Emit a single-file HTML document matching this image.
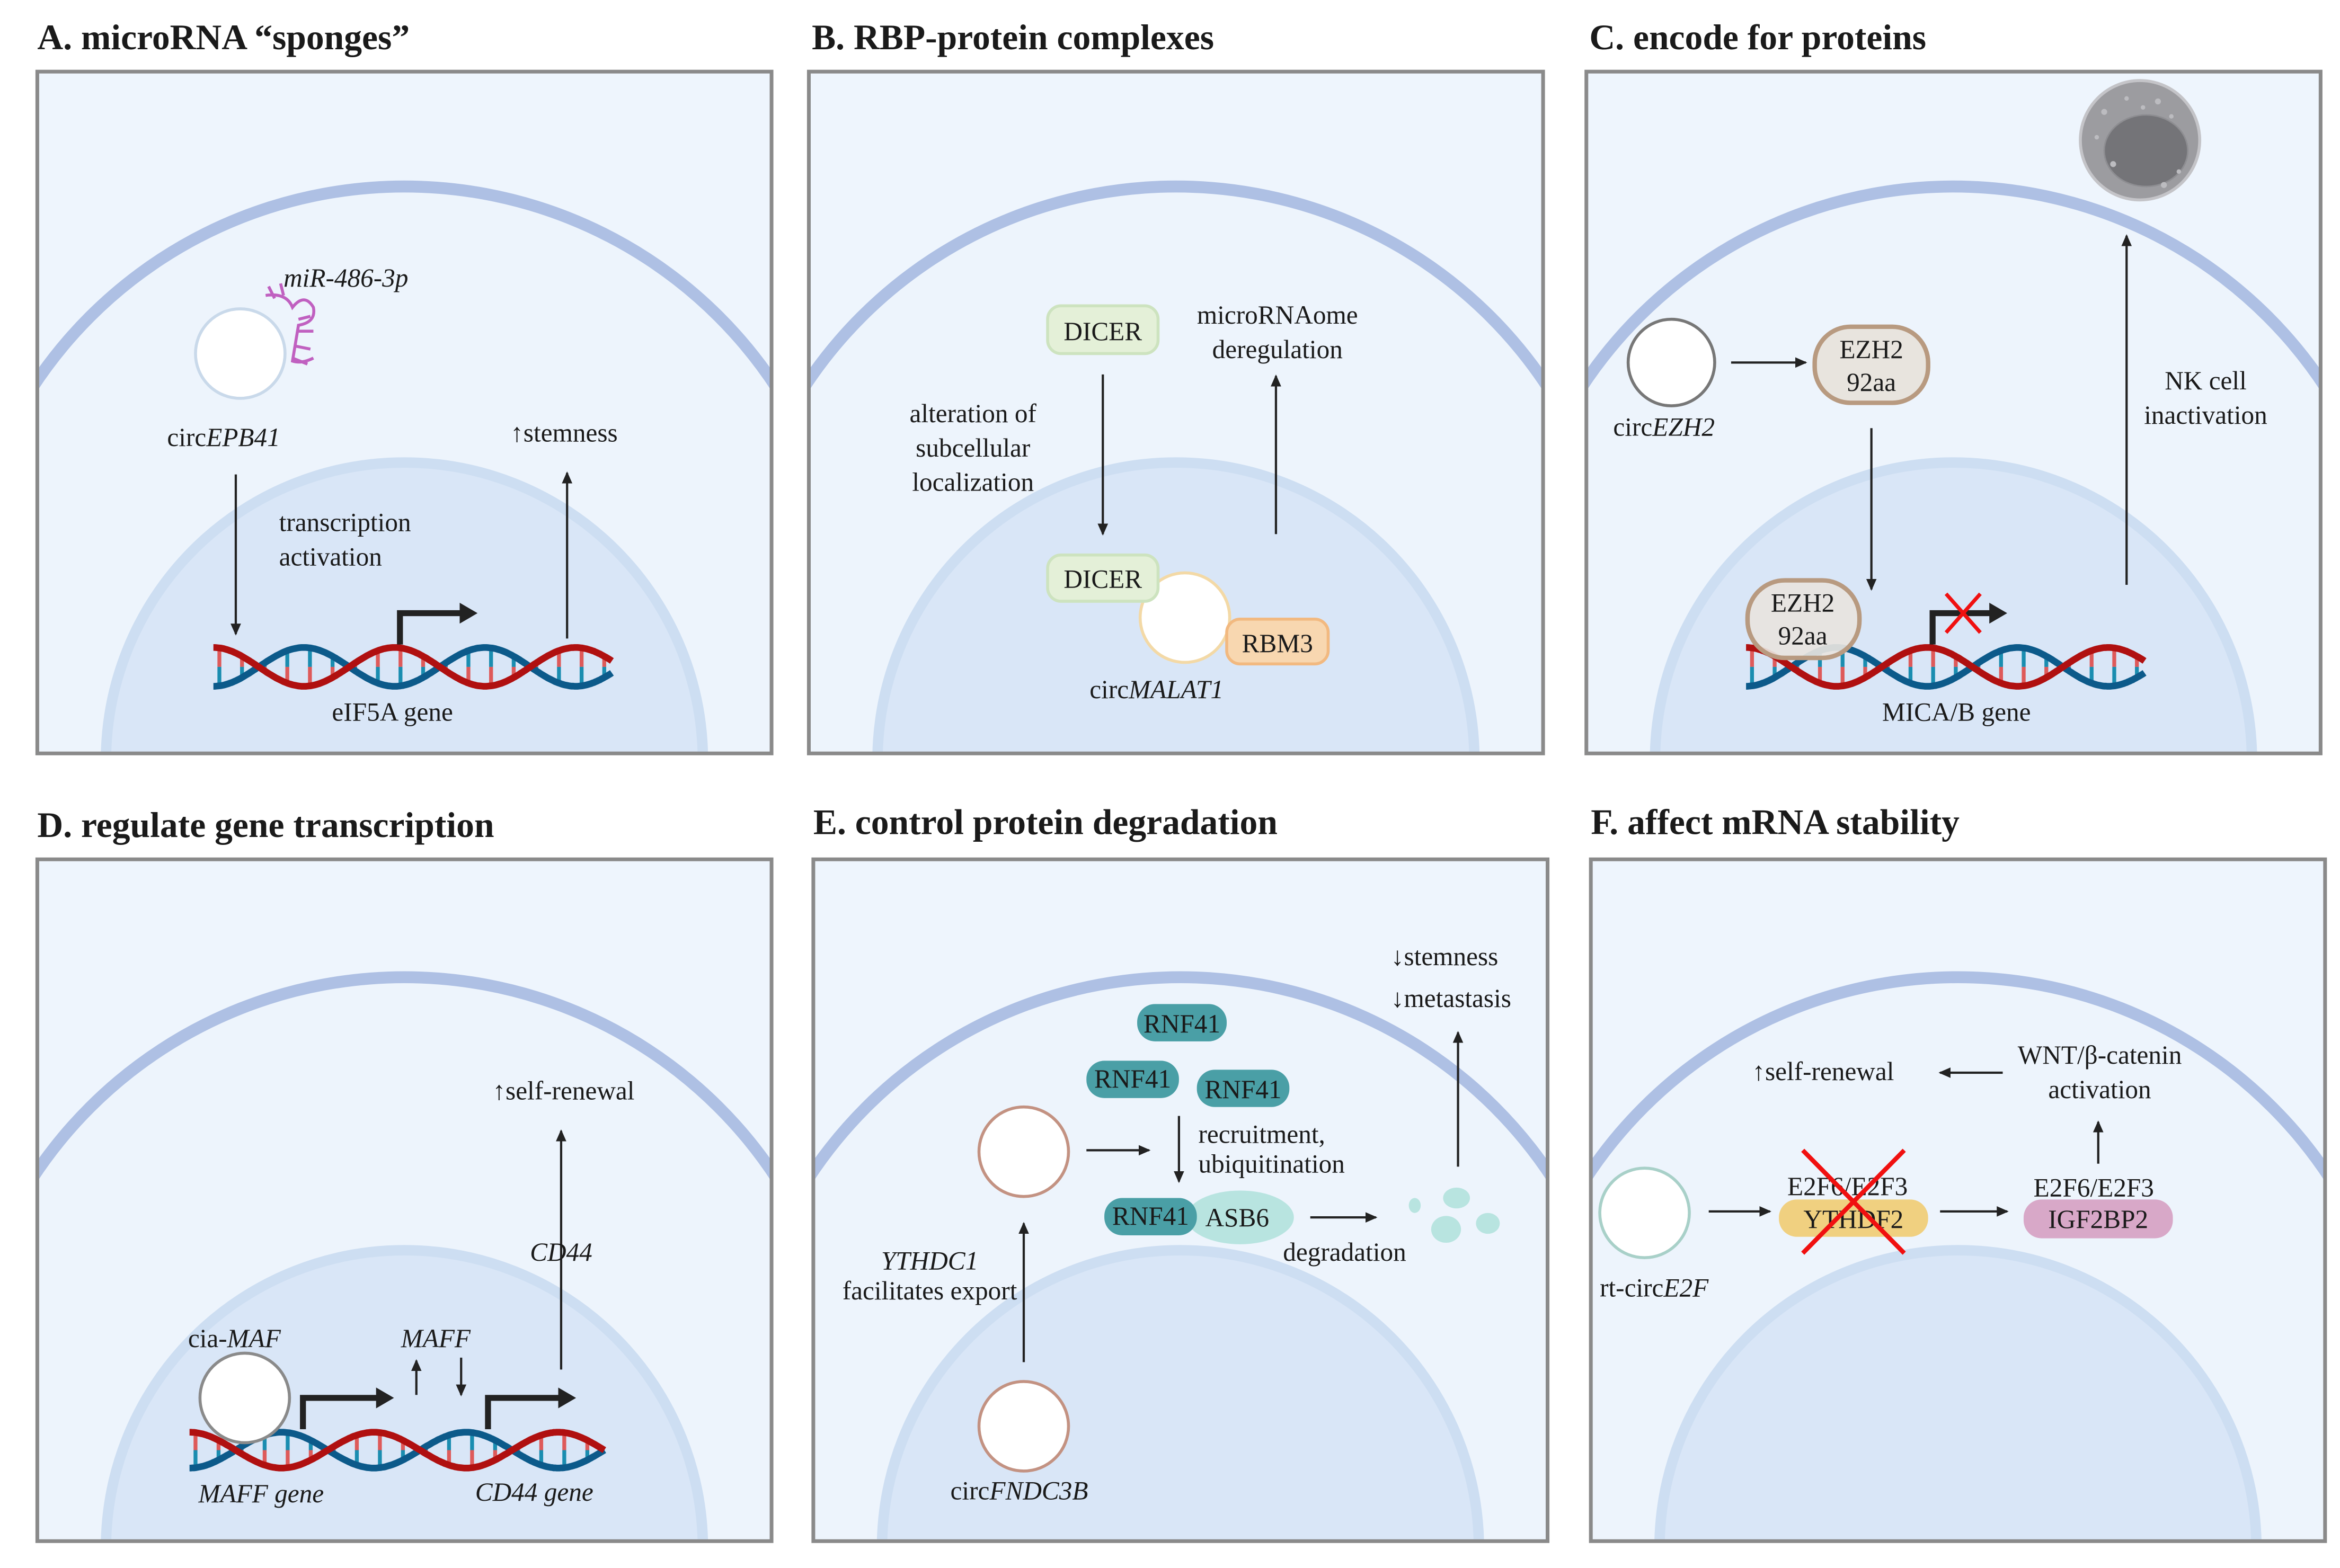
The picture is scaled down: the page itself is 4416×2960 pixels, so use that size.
<!DOCTYPE html>
<html><head><meta charset="utf-8"><style>
html,body{margin:0;padding:0;background:#fff;width:4416px;height:2960px;overflow:hidden;}
svg{display:block;}
text{font-family:"Liberation Serif",serif;fill:#1a1a1a;}
.t{font-size:17.5px;}
.h{font-size:24px;font-weight:bold;}
.b{font-weight:bold;}
</style></head><body>
<svg id="s" width="4416" height="2960" viewBox="0 0 1568 1051" xmlns="http://www.w3.org/2000/svg">
<defs>
<marker id="ar" markerWidth="8" markerHeight="8" refX="7" refY="4" orient="auto" markerUnits="userSpaceOnUse"><path d="M0,0.5 L8,4 L0,7.5 Z" fill="#222"/></marker>
<marker id="ab" markerWidth="12" markerHeight="14" refX="4" refY="7" orient="auto" markerUnits="userSpaceOnUse"><path d="M0,0 L12,7 L0,14 Z" fill="#222"/></marker>
<clipPath id="cA"><rect x="25" y="48" width="492" height="457"/></clipPath>
<clipPath id="cB"><rect x="542" y="48" width="492" height="457"/></clipPath>
<clipPath id="cC"><rect x="1063" y="48" width="492" height="457"/></clipPath>
<clipPath id="cD"><rect x="25" y="576" width="492" height="457"/></clipPath>
<clipPath id="cE"><rect x="545" y="576" width="492" height="457"/></clipPath>
<clipPath id="cF"><rect x="1066" y="576" width="492" height="457"/></clipPath>
</defs>
<g id="panels"></g>

<text class="h" x="25" y="33">A. microRNA “sponges”</text>
<text class="h" x="544" y="33">B. RBP-protein complexes</text>
<text class="h" x="1065" y="33">C. encode for proteins</text>
<text class="h" x="25" y="561">D. regulate gene transcription</text>
<text class="h" x="545" y="559">E. control protein degradation</text>
<text class="h" x="1066" y="559">F. affect mRNA stability</text>

<g id="dna"></g>

<!-- Panel A -->
<circle cx="161" cy="237" r="30" fill="#fff" stroke="#c9d9ea" stroke-width="2"/>
<path d="M178,198 q14,-2 18,8 q8,-10 14,0 q2,10 -10,12 l-4,24 q6,2 14,-2 M184,200 l-4,-8 M190,198 l-2,-8 M200,214 l8,-2 M200,222 l10,0 M198,232 l10,2 M196,240 l10,4" fill="none" stroke="#c060c0" stroke-width="2"/>
<text class="t" x="190" y="192" font-style="italic">miR-486-3p</text>
<text class="t" x="112" y="299">circ<tspan font-style="italic">EPB41</tspan></text>
<line x1="158" y1="318" x2="158" y2="425" stroke="#222" stroke-width="1.5" marker-end="url(#ar)"/>
<text class="t" x="187" y="356">transcription</text>
<text class="t" x="187" y="379">activation</text>
<text class="t" x="342" y="296"><tspan class="b">↑</tspan>stemness</text>
<line x1="380" y1="428" x2="380" y2="317" stroke="#222" stroke-width="1.5" marker-end="url(#ar)"/>
<path d="M268,432 V411 H312" fill="none" stroke="#222" stroke-width="4" marker-end="url(#ab)"/>
<text class="t" x="263" y="483" text-anchor="middle">eIF5A gene</text>

<!-- Panel B -->
<rect x="702" y="205" width="74" height="32" rx="9" fill="#e4f0d8" stroke="#cde3bf" stroke-width="2"/>
<text class="t" x="739" y="228" text-anchor="middle">DICER</text>
<line x1="739" y1="251" x2="739" y2="358" stroke="#222" stroke-width="1.5" marker-end="url(#ar)"/>
<text class="t" x="652" y="283" text-anchor="middle">alteration of</text>
<text class="t" x="652" y="306" text-anchor="middle">subcellular</text>
<text class="t" x="652" y="329" text-anchor="middle">localization</text>
<text class="t" x="856" y="217" text-anchor="middle">microRNAome</text>
<text class="t" x="856" y="240" text-anchor="middle">deregulation</text>
<line x1="855" y1="358" x2="855" y2="252" stroke="#222" stroke-width="1.5" marker-end="url(#ar)"/>
<circle cx="794" cy="414" r="30" fill="#fff" stroke="#f3d9a6" stroke-width="2"/>
<rect x="702" y="372" width="74" height="31" rx="9" fill="#e4f0d8" stroke="#cde3bf" stroke-width="2"/>
<text class="t" x="739" y="394" text-anchor="middle">DICER</text>
<rect x="822" y="415" width="68" height="30" rx="9" fill="#f8d7b0" stroke="#f2b980" stroke-width="2"/>
<text class="t" x="856" y="437" text-anchor="middle">RBM3</text>
<text class="t" x="775" y="468" text-anchor="middle">circ<tspan font-style="italic">MALAT1</tspan></text>

<!-- Panel C -->
<circle cx="1434" cy="94" r="40" fill="#9c9ca0" stroke="#c4c4c8" stroke-width="2"/>
<ellipse cx="1438" cy="101" rx="28" ry="24" fill="#747478" stroke="#8e8e92"/>
<g fill="#bcbcc0"><circle cx="1410" cy="75" r="2"/><circle cx="1425" cy="66" r="1.5"/><circle cx="1446" cy="68" r="2"/><circle cx="1455" cy="78" r="1.5"/><circle cx="1405" cy="92" r="1.5"/><circle cx="1416" cy="110" r="2"/><circle cx="1460" cy="115" r="1.5"/><circle cx="1450" cy="124" r="2"/><circle cx="1436" cy="72" r="1.5"/></g>
<circle cx="1120" cy="243" r="29" fill="#fff" stroke="#777" stroke-width="2"/>
<text class="t" x="1081" y="292">circ<tspan font-style="italic">EZH2</tspan></text>
<line x1="1160" y1="243" x2="1210" y2="243" stroke="#222" stroke-width="1.5" marker-end="url(#ar)"/>
<rect x="1216" y="219" width="76" height="51" rx="24" fill="#e8e4de" stroke="#b89a80" stroke-width="3"/>
<text class="t" x="1254" y="240" text-anchor="middle">EZH2</text>
<text class="t" x="1254" y="262" text-anchor="middle">92aa</text>
<line x1="1254" y1="287" x2="1254" y2="395" stroke="#222" stroke-width="1.5" marker-end="url(#ar)"/>
<text class="t" x="1478" y="261" text-anchor="middle">NK cell</text>
<text class="t" x="1478" y="284" text-anchor="middle">inactivation</text>
<line x1="1425" y1="392" x2="1425" y2="158" stroke="#222" stroke-width="1.5" marker-end="url(#ar)"/>
<path d="M1295,432 V411 H1337" fill="none" stroke="#222" stroke-width="4" marker-end="url(#ab)"/>
<path d="M1304,398 L1327,424 M1327,398 L1304,424" stroke="#f01010" stroke-width="2.5"/>
<text class="t" x="1311" y="483" text-anchor="middle">MICA/B gene</text>

<!-- Panel D -->
<text class="t" x="330" y="737"><tspan class="b">↑</tspan>self-renewal</text>
<line x1="376" y1="918" x2="376" y2="758" stroke="#222" stroke-width="1.5" marker-end="url(#ar)"/>
<text class="t" x="376" y="845" text-anchor="middle" font-style="italic">CD44</text>
<text class="t" x="126" y="903">cia-<tspan font-style="italic">MAF</tspan></text>
<text class="t" x="292" y="903" text-anchor="middle" font-style="italic">MAFF</text>
<line x1="279" y1="935" x2="279" y2="912" stroke="#222" stroke-width="1.5" marker-end="url(#ar)"/>
<line x1="309" y1="910" x2="309" y2="935" stroke="#222" stroke-width="1.5" marker-end="url(#ar)"/>
<path d="M203,958 V937 H256" fill="none" stroke="#222" stroke-width="4" marker-end="url(#ab)"/>
<path d="M327,958 V937 H378" fill="none" stroke="#222" stroke-width="4" marker-end="url(#ab)"/>
<text class="t" x="175" y="1007" text-anchor="middle" font-style="italic">MAFF gene</text>
<text class="t" x="358" y="1006" text-anchor="middle" font-style="italic">CD44 gene</text>

<!-- Panel E -->
<text class="t" x="932" y="647"><tspan class="b">↓</tspan>stemness</text>
<text class="t" x="932" y="675"><tspan class="b">↓</tspan>metastasis</text>
<line x1="977" y1="782" x2="977" y2="692" stroke="#222" stroke-width="1.5" marker-end="url(#ar)"/>
<rect x="762" y="673" width="60" height="25" rx="12" fill="#4a9fa6"/>
<text class="t" x="792" y="692" text-anchor="middle" font-size="16">RNF41</text>
<rect x="728" y="711" width="62" height="25" rx="12" fill="#4a9fa6"/>
<text class="t" x="759" y="729" text-anchor="middle" font-size="16">RNF41</text>
<rect x="802" y="717" width="62" height="25" rx="12" fill="#4a9fa6"/>
<text class="t" x="833" y="736" text-anchor="middle" font-size="16">RNF41</text>
<circle cx="686" cy="772" r="30" fill="#fff" stroke="#c39282" stroke-width="2"/>
<line x1="728" y1="771" x2="770" y2="771" stroke="#222" stroke-width="1.5" marker-end="url(#ar)"/>
<line x1="790" y1="748" x2="790" y2="792" stroke="#222" stroke-width="1.5" marker-end="url(#ar)"/>
<text class="t" x="803" y="766" font-size="16">recruitment,</text>
<text class="t" x="803" y="786" font-size="16">ubiquitination</text>
<ellipse cx="831" cy="816" rx="36" ry="18" fill="#b8e4e0"/>
<rect x="740" y="803" width="62" height="25" rx="12" fill="#4a9fa6"/>
<text class="t" x="771" y="821" text-anchor="middle" font-size="16">RNF41</text>
<text class="t" x="829" y="822" text-anchor="middle">ASB6</text>
<line x1="878" y1="816" x2="922" y2="816" stroke="#222" stroke-width="1.5" marker-end="url(#ar)"/>
<text class="t" x="901" y="845" text-anchor="middle" font-size="16">degradation</text>
<g fill="#b8e4e0"><ellipse cx="976" cy="803" rx="9" ry="7"/><ellipse cx="969" cy="824" rx="10" ry="9"/><ellipse cx="997" cy="820" rx="8" ry="7"/><ellipse cx="948" cy="808" rx="4" ry="5"/></g>
<line x1="686" y1="913" x2="686" y2="820" stroke="#222" stroke-width="1.5" marker-end="url(#ar)"/>
<text class="t" x="623" y="851" text-anchor="middle" font-style="italic" font-size="16">YTHDC1</text>
<text class="t" x="623" y="871" text-anchor="middle" font-size="16">facilitates export</text>
<circle cx="686" cy="956" r="30" fill="#fff" stroke="#c39282" stroke-width="2"/>
<text class="t" x="683" y="1005" text-anchor="middle">circ<tspan font-style="italic">FNDC3B</tspan></text>

<!-- Panel F -->
<circle cx="1102" cy="813" r="30" fill="#fff" stroke="#a8d0c8" stroke-width="2"/>
<text class="t" x="1072" y="869">rt-circ<tspan font-style="italic">E2F</tspan></text>
<line x1="1145" y1="812" x2="1186" y2="812" stroke="#222" stroke-width="1.5" marker-end="url(#ar)"/>
<text class="t" x="1238" y="801" text-anchor="middle">E2F6/E2F3</text>
<rect x="1192" y="804" width="100" height="25" rx="12" fill="#f0d080"/>
<text class="t" x="1242" y="823" text-anchor="middle">YTHDF2</text>
<path d="M1208,771 L1276,840 M1276,771 L1208,840" stroke="#f01010" stroke-width="3"/>
<line x1="1300" y1="812" x2="1345" y2="812" stroke="#222" stroke-width="1.5" marker-end="url(#ar)"/>
<text class="t" x="1403" y="802" text-anchor="middle">E2F6/E2F3</text>
<rect x="1356" y="804" width="100" height="26" rx="12" fill="#d8a8c8"/>
<text class="t" x="1406" y="823" text-anchor="middle">IGF2BP2</text>
<line x1="1406" y1="780" x2="1406" y2="752" stroke="#222" stroke-width="1.5" marker-end="url(#ar)"/>
<text class="t" x="1407" y="713" text-anchor="middle">WNT/β-catenin</text>
<text class="t" x="1407" y="736" text-anchor="middle">activation</text>
<line x1="1342" y1="719" x2="1300" y2="719" stroke="#222" stroke-width="1.5" marker-end="url(#ar)"/>
<text class="t" x="1174" y="724"><tspan class="b">↑</tspan>self-renewal</text>
</svg>
<script>
var NS="http://www.w3.org/2000/svg";
function el(p,t,a){var e=document.createElementNS(NS,t);for(var k in a)e.setAttribute(k,a[k]);p.appendChild(e);return e;}
var P=document.getElementById("panels");
var pans=[["cA",25,48],["cB",542,48],["cC",1063,48],["cD",25,576],["cE",545,576],["cF",1066,576]];
pans.forEach(function(q){
 var x=q[1],y=q[2],cx=x+246;
 el(P,"rect",{x:x,y:y,width:492,height:457,fill:"#eef5fd"});
 var g=el(P,"g",{"clip-path":"url(#"+q[0]+")"});
 var ctop=y+(q[2]>500?79:77);
 el(g,"circle",{cx:cx,cy:ctop+298,r:298,fill:"#edf4fc",stroke:"#aec0e4","stroke-width":8});
 var ntop=y+262;
 el(g,"circle",{cx:cx,cy:ntop+200,r:200,fill:"#d9e6f7",stroke:"#cddef2","stroke-width":7});
 el(P,"rect",{x:x,y:y,width:492,height:457,fill:"none",stroke:"#8a8a8a","stroke-width":2.5});
});
var D=document.getElementById("dna");
function dna(x1,x2,yt,yb,periods){
 var w=x2-x1,mid=(yt+yb)/2,A=(yb-yt)/2,per=w/periods;
 function f(x,ph){return mid - A*Math.cos(2*Math.PI*(x-x1)/per+ph);}
 for(var x=x1+4;x<x2;x+=per/8){
  var a=f(x,0),b=f(x,Math.PI),m=(a+b)/2;
  el(D,"line",{x1:x,y1:a,x2:x,y2:m,stroke:"#de5a5a","stroke-width":2.6});
  el(D,"line",{x1:x,y1:m,x2:x,y2:b,stroke:"#1a8db0","stroke-width":2.6});
 }
 [[Math.PI,"#0c5a8a"],[0,"#b01010"]].forEach(function(s){
  var d="";for(var x=x1;x<=x2+0.1;x+=1){d+=(x==x1?"M":"L")+x.toFixed(1)+","+f(x,s[0]).toFixed(1);}
  el(D,"path",{d:d,fill:"none",stroke:s[1],"stroke-width":4.5});
 });
}
dna(143,410,434,460,2.2);
dna(1170,1437,434,460,2.2);
dna(127,405,960,984,2.25);
var S=document.getElementById("s");
el(S,"rect",{x:1171,y:389,width:75,height:52,rx:25,fill:"#e8e4de","fill-opacity":0.92,stroke:"#b89a80","stroke-width":3});
var t1=el(S,"text",{x:1208,y:410,"text-anchor":"middle","class":"t"});t1.textContent="EZH2";
var t2=el(S,"text",{x:1208,y:432,"text-anchor":"middle","class":"t"});t2.textContent="92aa";
el(S,"circle",{cx:164,cy:937,r:30,fill:"#fff",stroke:"#8a8a8a","stroke-width":2});
</script>
</body></html>
